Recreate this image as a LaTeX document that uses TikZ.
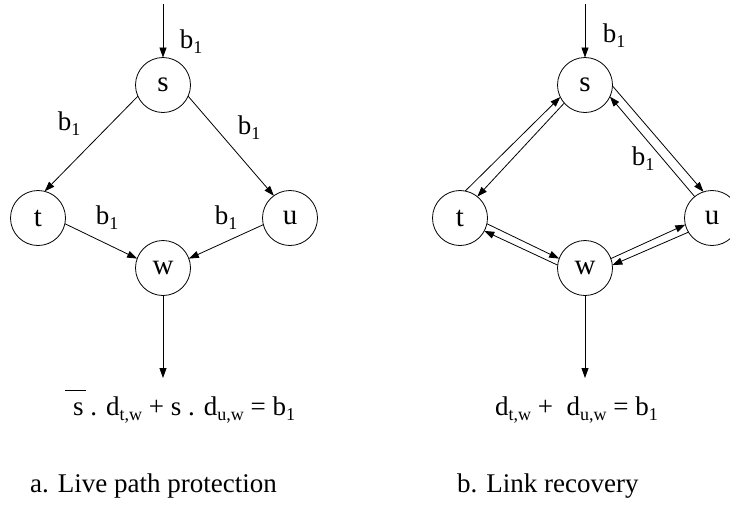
\documentclass[tikz,border=0pt]{standalone}
\usepackage{fontspec}
\setmainfont{Liberation Serif}
\usetikzlibrary{arrows.meta}
\tikzset{
  vtx/.style={draw, circle, minimum size=55pt, inner sep=0pt, outer sep=0pt, line width=0.8pt,
              font=\fontsize{29}{32}\selectfont},
  flow/.style={line width=0.8pt, -{Triangle[length=10pt,width=7pt]}},
  lbl/.style={inner sep=0pt},
}
% lowered, reduced index as used in the labels
\newcommand{\lowidx}[1]{\raisebox{-5pt}{\fontsize{18}{20}\selectfont #1}}
\newcommand{\bone}{b\lowidx{1}}
% complemented s with a bar set well above the letter
\newcommand{\sbar}{\makebox[0pt][l]{\hspace{-8pt}\raisebox{24pt}{\rule{21pt}{0.8pt}}}s}
\begin{document}
\begin{tikzpicture}[x=1pt,y=-1pt,font=\fontsize{27}{32}\selectfont]
\useasboundingbox (0,0) rectangle (730,504);

% ---------- a. live path protection ----------
\node[vtx] (sA) at (163,85)  {s};
\node[vtx] (tA) at (38,218)  {t};
\node[vtx] (uA) at (290,218) {u};
\node[vtx] (wA) at (163,268) {w};
\coordinate (inA)  at (163,4);
\coordinate (outA) at (163,378);

\draw[flow] (inA) -- (sA.north);
\draw[flow] (sA.204) -- (tA.76);
\draw[flow] (sA.336) -- (uA.126);
\draw[flow] (tA.-12) -- (wA.160);
\draw[flow] (uA.194) -- (wA.20);
\draw[flow] (wA.south) -- (outA);

\node[lbl] (bA0) at (191,42)  {\bone};
\node[lbl] (bA1) at (69,124)  {\bone};
\node[lbl] (bA2) at (249,128) {\bone};
\node[lbl] (bA3) at (107,218) {\bone};
\node[lbl] (bA4) at (226,218) {\bone};

\node[lbl, anchor=base west] (eqA) at (73,415)
  {\sbar\ . d\lowidx{t,w} + s . d\lowidx{u,w} = \bone};
\node[lbl, anchor=base west] (capA) at (30,492) {a. Live path protection};

% ---------- b. link recovery ----------
\node[vtx] (sB) at (585,85)  {s};
\node[vtx] (tB) at (460,218) {t};
\node[vtx] (uB) at (712,218) {u};
\node[vtx] (wB) at (585,268) {w};
\coordinate (inB)  at (585,4);
\coordinate (outB) at (585,378);

\draw[flow] (inB) -- (sB.north);
\draw[flow] (tB.79)  -- (sB.206);
\draw[flow] (sB.221) -- (tB.51);
\draw[flow] (sB.358) -- (uB.108);
\draw[flow] (uB.129) -- (sB.335);
\draw[flow] (tB.-12) -- (wB.160);
\draw[flow] (wB.174) -- (tB.-28);
\draw[flow] (wB.20)  -- (uB.194);
\draw[flow] (uB.211) -- (wB.6);
\draw[flow] (wB.south) -- (outB);

\node[lbl] (bB0) at (614,36)  {\bone};
\node[lbl] (bB1) at (643,159) {\bone};

\node[lbl, anchor=base west] (eqB) at (495,415)
  {d\lowidx{t,w} +\ \ d\lowidx{u,w} = \bone};
\node[lbl, anchor=base west] (capB) at (457,492) {b. Link recovery};
\end{tikzpicture}
\end{document}
